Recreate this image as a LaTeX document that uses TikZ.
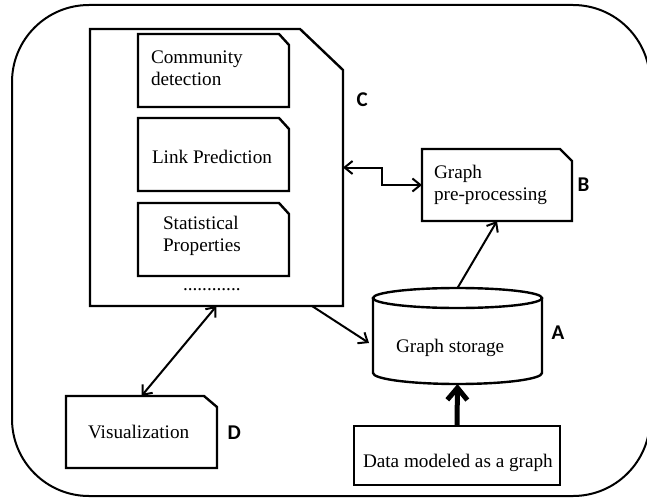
\documentclass[tikz,border=0pt]{standalone}
\usepackage{fontspec}
\setmainfont{Liberation Serif}
\newfontfamily\labfont{Carlito}
\usetikzlibrary{arrows.meta,calc}
\newcommand\cutbox[3]{\draw[edge] (#1.south west) -- (#1.north west) -- ([xshift=-#2pt]#1.north east) -- ([yshift=-#3pt]#1.north east) -- (#1.south east) -- cycle;}
\begin{document}
\begin{tikzpicture}[x=1pt,y=-1pt,
 box/.style={draw=none,inner sep=0,outer sep=0},
 edge/.style={line width=2.4pt,line join=miter},
 txt/.style={inner sep=0,outer sep=0,anchor=base west,font=\fontsize{19.2}{22}\selectfont},
 lab/.style={inner sep=0,outer sep=0,anchor=west,font=\fontsize{21}{21}\labfont\bfseries},
 arr/.style={line width=2pt,-{Straight Barb[length=8pt,width=13pt]}},
 dblarr/.style={line width=2pt,{Straight Barb[length=8pt,width=13pt]}-{Straight Barb[length=8pt,width=13pt]}},
 thickarr/.style={line width=5pt,-{Straight Barb[length=12pt,width=20pt]}},
]
\useasboundingbox (0,0) rectangle (647,500);
% outer frame
\draw[line width=2pt,rounded corners=77pt] (12,5) rectangle (650,496);

% C container
\node[box,minimum width=253,minimum height=277] (C) at (216.5,167.5) {};
\cutbox{C}{43}{41}
\node[box,minimum width=151,minimum height=73] (comm) at (213.5,70.5) {};
\cutbox{comm}{10}{11}
\node[box,minimum width=151,minimum height=73] (link) at (213.5,154.5) {};
\cutbox{link}{10}{11}
\node[box,minimum width=151,minimum height=73] (stat) at (213.5,239.5) {};
\cutbox{stat}{10}{11}
\node[txt] (commt1) at (151,64) {Community};
\node[txt] (commt2) at (151,85.5) {detection};
\node[txt] (linkt) at (152,163) {Link Prediction};
\node[txt] (statt1) at (163,229) {Statistical};
\node[txt] (statt2) at (163,251) {Properties};
\node[txt] (dots) at (183,290) {............};
\node[lab] (Clab) at (356.5,100) {C};

% B
\node[box,minimum width=150,minimum height=72] (B) at (497,185) {};
\cutbox{B}{12}{12}
\node[txt] (Bt1) at (434,178) {Graph};
\node[txt] (Bt2) at (434,200) {pre-processing};
\node[lab] (Blab) at (577.5,185) {B};

% A cylinder
\node[box,minimum width=169,minimum height=96] (cyl) at (457.5,336) {};
\draw[edge] ($(cyl.north)+(0,10)$) ellipse [x radius=84.5pt,y radius=10pt];
\draw[edge] ($(cyl.north west)+(0,10)$) -- ($(cyl.south west)+(0,-11)$)
  arc[start angle=180,end angle=360,x radius=84.5pt,y radius=11pt]
  -- ($(cyl.north east)+(0,10)$);
\node[txt] (cylt) at (396,352) {Graph storage};
\node[lab] (Alab) at (551.5,333) {A};

% D
\node[box,minimum width=151,minimum height=72] (D) at (141.5,432) {};
\cutbox{D}{13}{11}
\node[txt] (Dt) at (88,438) {Visualization};
\node[lab] (Dlab) at (227.5,433) {D};

% Data
\node[draw,line width=2.4pt,inner sep=0,minimum width=206,minimum height=59] (data) at (457,455.5) {};
\node[txt] (datat) at (363,467) {Data modeled as a graph};

% connectors
\draw[dblarr] (C.east) -- ++(39,0) |- (B.west);
\draw[arr] (cyl.north) -- (B.south);
\draw[arr] ([xshift=-31pt]C.south east) -- ([xshift=-4pt,yshift=-7pt]cyl.west);
\draw[dblarr] (C.south) -- (D.north);
\draw[thickarr] (data.north) -- (cyl.south);
\end{tikzpicture}
\end{document}
